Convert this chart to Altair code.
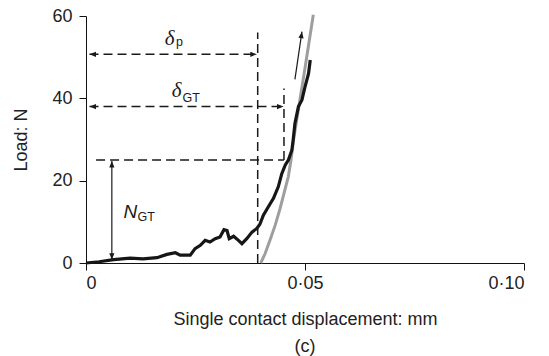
import altair as alt
import pandas as pd

FONT = "Liberation Sans"

# Measured curve (black)
blk_x = [0.0, 0.0030, 0.0063, 0.0101, 0.0130, 0.0162, 0.0185, 0.0204, 0.0215, 0.0238,
         0.0249, 0.0261, 0.0272, 0.0283, 0.0295, 0.0306, 0.0315, 0.0322, 0.0327, 0.0337,
         0.0348, 0.0356, 0.0367, 0.0379, 0.0390, 0.0397, 0.0405, 0.0416, 0.0428, 0.0439,
         0.0447, 0.0455, 0.0462, 0.0470, 0.0473, 0.0477, 0.0485, 0.0493, 0.0500, 0.0508,
         0.0512]
blk_y = [0.0, 0.3, 0.8, 1.2, 1.0, 1.3, 2.1, 2.5, 1.9, 1.9,
         3.5, 4.3, 5.5, 5.1, 5.9, 6.3, 8.1, 7.9, 5.9, 6.5,
         5.5, 4.7, 5.9, 7.5, 8.4, 9.4, 11.6, 13.6, 15.7, 18.5,
         21.7, 23.8, 25.0, 27.4, 29.9, 33.9, 38.0, 39.6, 42.8, 46.0,
         49.3]

# Fitted curve (grey)
gry_x = [0.0399, 0.0409, 0.0420, 0.0432, 0.0443, 0.0454, 0.0462, 0.0468, 0.0474,
         0.0486, 0.0498, 0.0509, 0.0519]
gry_y = [0.0, 2.3, 5.5, 9.2, 13.2, 17.7, 21.0, 25.0, 30.0, 38.0, 46.0, 53.5, 60.3]

# Dashed guide segments
dash_x = [0.0008, 0.0008, 0.0392, 0.0452, 0.0023]
dash_x2 = [0.0388, 0.0449, 0.0392, 0.0452, 0.0452]
dash_y = [50.7, 38.0, 0.0, 25.0, 25.0]
dash_y2 = [50.7, 38.0, 56.0, 42.4, 25.0]

# Solid thin arrows
sol_x = [0.0059, 0.0477]
sol_x2 = [0.0059, 0.0493]
sol_y = [0.8, 44.6]
sol_y2 = [24.8, 56.2]

# Arrowheads
head_x = [0.0008, 0.0390, 0.0008, 0.0451, 0.0059, 0.0059, 0.0493]
head_y = [50.7, 50.7, 38.0, 38.0, 24.8, 0.8, 56.2]
head_angle = [180, 0, 180, 0, 270, 90, 278]

# Annotation labels
delta_txt = ["δ", "δ"]
delta_x = [0.01800, 0.01960]
delta_y = [52.9, 40.4]
n_txt = ["N"]
n_x = [0.00857]
n_y = [11.05]
sub_txt = ["p", "GT", "GT"]
sub_x = [0.02053, 0.02203, 0.01177]
sub_y = [52.65, 39.17, 10.22]

x_ticks = [0.0, 0.05, 0.10]
y_ticks = [0, 20, 40, 60]

xs = alt.Scale(domain=[0, 0.1], nice=False, zero=False)
ys = alt.Scale(domain=[0, 60], nice=False)

x_axis = alt.Axis(values=x_ticks, title="Single contact displacement: mm",
                  labelExpr="datum.value == 0 ? '0' : replace(format(datum.value, '.2f'), '.', '·')",
                  grid=False, tickSize=7, labelPadding=4, labelFontSize=18, labelFont=FONT,
                  labelColor="#222", tickColor="#111", domainColor="#111",
                  titleFont=FONT, titleFontSize=18, titleFontWeight="normal", titleColor="#222",
                  titleX=219, titleY=56, titleBaseline="middle", titleAlign="center")
y_axis = alt.Axis(values=y_ticks, title="Load: N", grid=False, tickSize=7, labelPadding=7,
                  labelFontSize=18, labelFont=FONT, labelColor="#222", tickColor="#111",
                  domainColor="#111", titleFont=FONT, titleFontSize=18,
                  titleFontWeight="normal", titleColor="#222",
                  titleX=-65, titleY=123.5, titleBaseline="middle", titleAlign="center",
                  titleAngle=-90)

blk = pd.DataFrame({"x": blk_x, "y": blk_y})
gry = pd.DataFrame({"x": gry_x, "y": gry_y})
dash = pd.DataFrame({"x": dash_x, "x2": dash_x2, "y": dash_y, "y2": dash_y2})
sol = pd.DataFrame({"x": sol_x, "x2": sol_x2, "y": sol_y, "y2": sol_y2})
heads = pd.DataFrame({"x": head_x, "y": head_y, "a": head_angle})
deltas = pd.DataFrame({"x": delta_x, "y": delta_y, "t": delta_txt})
ns = pd.DataFrame({"x": n_x, "y": n_y, "t": n_txt})
subs = pd.DataFrame({"x": sub_x, "y": sub_y, "t": sub_txt})

gray_line = alt.Chart(gry).mark_line(color="#9e9e9e", strokeWidth=3).encode(
    x=alt.X("x:Q", scale=xs, axis=x_axis), y=alt.Y("y:Q", scale=ys, axis=y_axis))
black_line = alt.Chart(blk).mark_line(color="#161616", strokeWidth=3.2).encode(
    x=alt.X("x:Q", scale=xs), y=alt.Y("y:Q", scale=ys))
dashed = alt.Chart(dash).mark_rule(color="#1a1a1a", strokeWidth=1.5, strokeDash=[9, 5]).encode(
    x=alt.X("x:Q", scale=xs), x2="x2", y=alt.Y("y:Q", scale=ys), y2="y2")
solid = alt.Chart(sol).mark_rule(color="#1a1a1a", strokeWidth=1.2).encode(
    x=alt.X("x:Q", scale=xs), x2="x2", y=alt.Y("y:Q", scale=ys), y2="y2")
arrowheads = alt.Chart(heads).mark_point(
    shape="M0,0L-1,-0.4L-1,0.4Z", filled=True, color="#1a1a1a", size=170, opacity=1).encode(
    x=alt.X("x:Q", scale=xs), y=alt.Y("y:Q", scale=ys), angle=alt.Angle("a:Q", scale=None))
delta_text = alt.Chart(deltas).mark_text(font="Liberation Serif", fontSize=21, fontStyle="italic",
                                         align="left", baseline="alphabetic", color="#1a1a1a").encode(
    x=alt.X("x:Q", scale=xs), y=alt.Y("y:Q", scale=ys), text="t:N")
n_text = alt.Chart(ns).mark_text(font=FONT, fontSize=19, fontStyle="italic",
                                 align="left", baseline="alphabetic", color="#1a1a1a").encode(
    x=alt.X("x:Q", scale=xs), y=alt.Y("y:Q", scale=ys), text="t:N")
sub_text = alt.Chart(subs).mark_text(font=FONT, fontSize=12.5, align="left",
                                     baseline="alphabetic", color="#1a1a1a").encode(
    x=alt.X("x:Q", scale=xs), y=alt.Y("y:Q", scale=ys), text="t:N")
caption = alt.Chart(pd.DataFrame({"t": ["(c)"]})).mark_text(
    font=FONT, fontSize=18, color="#222", baseline="middle", align="center").encode(
    x=alt.value(219), y=alt.value(330.7), text="t:N")

chart = alt.layer(gray_line, black_line, dashed, solid, arrowheads, delta_text, n_text,
                  sub_text, caption).properties(
    width=438, height=247, autosize="none",
    padding={"left": 86, "top": 16, "right": 25, "bottom": 93},
    background="white",
).configure_view(stroke=None)

chart.save("out.html", embed_options={"renderer": "svg", "actions": False})
